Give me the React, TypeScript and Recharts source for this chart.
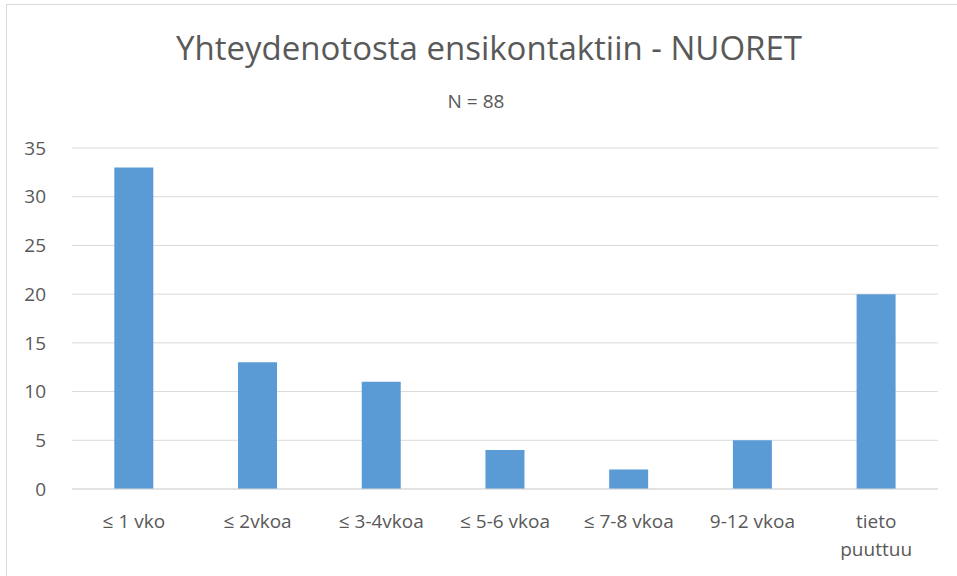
import { Bar, BarChart, CartesianGrid, XAxis, YAxis } from "recharts";

const categories = [
  "≤ 1 vko",
  "≤ 2vkoa",
  "≤ 3-4vkoa",
  "≤ 5-6 vkoa",
  "≤ 7-8 vkoa",
  "9-12 vkoa",
  "tieto puuttuu",
];
const counts = [33, 13, 11, 4, 2, 5, 20];
const yTicks = [0, 5, 10, 15, 20, 25, 30, 35];

const data = categories.map((name, i) => ({ name, value: counts[i] }));

const FONT = "'Open Sans', sans-serif";
const TEXT = "#595959";

function CategoryTick(props: any) {
  const { x, y, payload } = props;
  const label: string = payload.value;
  const lines = label.length > 12 ? label.split(" ") : [label];
  return (
    <text
      x={x}
      y={y}
      textAnchor="middle"
      fill={TEXT}
      fontSize={19}
      fontFamily={FONT}
    >
      {lines.map((line, i) => (
        <tspan key={i} x={x} dy={i === 0 ? "0.71em" : 28}>
          {line}
        </tspan>
      ))}
    </text>
  );
}

export default function App() {
  return (
    <div
      style={{
        position: "absolute",
        left: 0,
        top: 0,
        width: 957,
        height: 576,
        overflow: "hidden",
        background: "#fff",
        fontFamily: FONT,
      }}
    >
      <div
        style={{
          position: "absolute",
          left: 6,
          top: 4,
          width: 1000,
          height: 640,
          border: "1px solid #d9d9d9",
          boxSizing: "border-box",
        }}
      />
      <div
        style={{
          position: "absolute",
          left: 0,
          width: 978,
          top: 27,
          textAlign: "center",
          fontSize: 33,
          color: TEXT,
          lineHeight: "42px",
          whiteSpace: "nowrap",
        }}
      >
        Yhteydenotosta ensikontaktiin - NUORET
      </div>
      <div
        style={{
          position: "absolute",
          left: 376,
          width: 200,
          top: 88,
          textAlign: "center",
          fontSize: 19,
          color: TEXT,
          lineHeight: "26px",
        }}
      >
        N = 88
      </div>
      <div style={{ position: "absolute", left: 0, top: 0 }}>
        <BarChart
          width={957}
          height={576}
          data={data}
          margin={{ top: 148, right: 19, bottom: 57, left: 0 }}
          barCategoryGap="34.2%"
        >
          <CartesianGrid stroke="#d9d9d9" vertical={false} />
          <XAxis
            dataKey="name"
            axisLine={{ stroke: "#d9d9d9" }}
            tickLine={false}
            tickSize={0}
            tickMargin={26}
            interval={0}
            height={30}
            tick={<CategoryTick />}
          />
          <YAxis
            domain={[0, 35]}
            ticks={yTicks}
            width={72}
            axisLine={false}
            tickLine={false}
            tickSize={0}
            tickMargin={26}
            tick={{ fill: TEXT, fontSize: 19, fontFamily: FONT }}
          />
          <Bar dataKey="value" fill="#5b9bd5" isAnimationActive={false} />
        </BarChart>
      </div>
    </div>
  );
}
